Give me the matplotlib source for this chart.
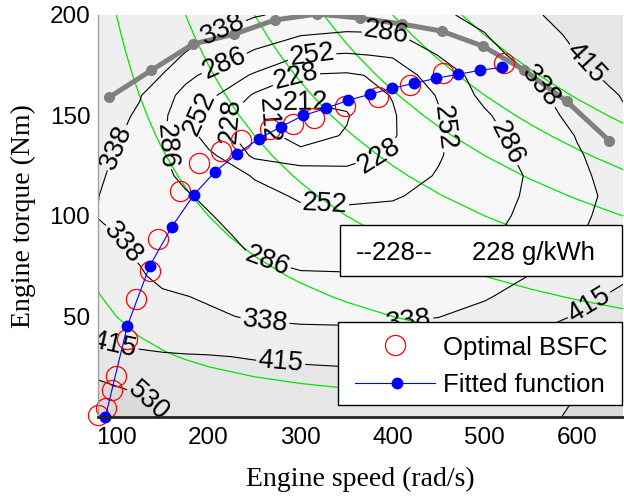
import numpy as np
import matplotlib
matplotlib.use("Agg")
import matplotlib.pyplot as plt
from matplotlib.patches import Rectangle

# ---------------- data ----------------
speed_grid = np.array([80, 100, 125, 150, 175, 200, 250, 300, 350, 400, 450, 500, 550, 600, 650])
torque_grid = np.array([0, 10, 20, 30, 40, 50, 60, 70, 80, 90, 100,
                        110, 120, 130, 140, 150, 160, 170, 180, 190, 200])
# BSFC (g/kWh), one row per torque value, one column per speed value
bsfc_map = np.array([
    [620, 590, 555, 525, 505, 490, 475, 465, 460, 462, 470, 485, 510, 540, 600],
    [575, 555, 537, 510, 490, 475, 458, 448, 443, 444, 450, 462, 485, 532, 580],
    [522, 508, 492, 475, 462, 452, 440, 432, 428, 429, 434, 445, 465, 505, 555],
    [460, 440, 430, 425, 422, 420, 410, 405, 402, 404, 411, 425, 445, 480, 540],
    [405, 395, 390, 380, 372, 366, 358, 354, 352, 354, 360, 375, 420, 450, 505],
    [390, 382, 372, 360, 352, 345, 333, 328, 327, 329, 337, 355, 385, 420, 470],
    [372, 362, 352, 343, 339, 333, 315, 305, 302, 303, 313, 333, 360, 395, 430],
    [360, 352, 342, 330, 320, 310, 298, 290, 289, 290, 296, 314, 340, 370, 405],
    [350, 344, 335, 320, 308, 298, 285, 276, 275, 276, 280, 288, 315, 345, 380],
    [345, 338.5, 326, 312, 300, 295, 278, 266, 263, 264, 268, 280, 300, 334, 365],
    [337, 330, 318, 305, 295, 288, 270, 258, 258, 255, 260, 274, 295, 330, 355],
    [339, 322, 310, 298, 289, 280, 260, 249, 247, 251, 255, 268, 292, 328, 350],
    [345, 328, 308, 292, 280, 270, 250, 240, 237, 240, 254, 266, 290, 330, 355],
    [352, 334, 304, 288, 274, 258, 224, 216, 218, 232, 250, 270, 296, 334, 360],
    [360, 345, 315, 290, 266, 240, 218, 207, 213, 226, 248, 272, 305, 340, 370],
    [372, 352, 330, 292, 266, 240, 214, 205, 211, 226, 250, 281, 314, 352, 405],
    [385, 368, 342, 300, 275, 258, 225, 215, 216, 229, 254, 295, 325, 360, 420],
    [400, 385, 360, 337, 295, 278, 248, 227, 225, 233, 268, 300, 337, 395, 440],
    [405, 392, 380, 355, 335, 310, 278, 252.5, 249, 255, 287, 318, 360, 414, 460],
    [408, 398, 385, 370, 355, 338, 306, 287, 280, 282, 305, 336, 380, 430, 475],
    [412, 405, 395, 385, 372, 360, 342, 325, 315, 318, 330, 352, 402, 452, 495],
])
bsfc_levels = [212, 228, 252, 286, 338, 415, 530]
power_levels_kw = [5, 20, 35, 50, 65, 80, 95]

# maximum torque curve
maxtq_speed = [92, 138, 183, 228, 272, 318, 364, 410, 453, 498, 543, 589, 635]
maxtq_torque = [159, 172.5, 185.5, 190.5, 197.5, 200.5, 198.5, 195.5, 192, 184.5, 172.5, 157, 137.5]

# optimal BSFC points
opt_speed = [79.5, 89, 95.7, 99, 111, 121.7, 136, 144.6, 168.5, 190, 214, 235,
             267, 292, 315, 348, 384, 418.5, 455, 520.5]
opt_torque = [1, 4.5, 13.5, 20.5, 39, 58.5, 72.5, 88.5, 112.5, 126.5, 132.5, 138,
              143.5, 146, 149, 154.5, 159, 165, 171, 176]

# fitted function
fit_speed = [88, 112, 136, 160, 184, 207, 231, 255, 279, 303, 327, 351, 375,
             399, 423, 447, 471, 495, 519]
fit_torque = [0, 45.5, 75, 94.5, 110.5, 122, 131, 138.5, 144.5, 150, 153.5, 157.5,
              160.5, 163.5, 166, 168.5, 170.5, 172.5, 174]

x_ticks = [100, 200, 300, 400, 500, 600]
y_ticks = [50, 100, 150, 200]

# ---------------- style ----------------
plt.rcParams['font.family'] = ['Liberation Sans', 'DejaVu Sans']
serif = ['Liberation Serif', 'DejaVu Serif']

fig = plt.figure(figsize=(6.24, 4.96), dpi=100)
ax = fig.add_axes([98 / 624, 79 / 496, 525 / 624, 402 / 496])

band_colors = ['#fdfdfd', '#fcfcfc', '#fafafa', '#f8f8f8', '#f6f6f6',
               '#efefef', '#e6e6e6', '#dadada']
ax.contourf(speed_grid, torque_grid, bsfc_map,
            levels=[0] + bsfc_levels + [5000], colors=band_colors, zorder=0)

power_kw = np.outer(torque_grid, speed_grid) / 1000.0
ax.contour(speed_grid, torque_grid, power_kw, levels=power_levels_kw,
           colors='#00e600', linewidths=0.9, zorder=2)

cs = ax.contour(speed_grid, torque_grid, bsfc_map, levels=bsfc_levels,
                colors='k', linewidths=0.8, zorder=3)
label_positions = [
    (217, 191), (217, 176), (193.5, 150), (229, 147.5), (267, 148.5),
    (306, 158), (296, 168), (312, 180), (393, 190), (454, 143.5),
    (386, 128.5), (326, 107), (527, 137), (563, 165), (609, 176),
    (154, 135), (103, 133.5), (101, 84.5), (261, 73.5), (261, 46),
    (278, 25), (97, 34.5), (136, 8.5), (614, 55), (418, 46),
]
ax.clabel(cs, fmt='%d', fontsize=19.5, manual=label_positions,
          inline=True, inline_spacing=2)

ax.plot(maxtq_speed, maxtq_torque, color='#808080', lw=3.6, marker='o',
        ms=7, zorder=4)
ax.plot(opt_speed, opt_torque, ls='none', marker='o', mfc='none', mec='#ff0000',
        ms=14.5, mew=0.9, zorder=5, clip_on=False)
ax.plot(fit_speed, fit_torque, color='#0000ff', lw=0.8, marker='o', ms=7.5,
        mec='#0000ff', mfc='#0000ff', zorder=6, clip_on=False)

ax.set_xlim(80, 650)
ax.set_ylim(0, 200)
ax.set_xticks(x_ticks)
ax.set_yticks(y_ticks)
ax.tick_params(length=0, labelsize=17.5)
ax.tick_params(axis='x', pad=7)
ax.tick_params(axis='y', pad=5.5)
for side in ('top', 'right'):
    ax.spines[side].set_visible(False)
ax.spines['left'].set_color('#a0a0a0')
ax.spines['left'].set_linewidth(1.0)
ax.spines['bottom'].set_color('#222222')
ax.spines['bottom'].set_linewidth(2.0)
ax.spines['left'].set_zorder(7)
ax.spines['bottom'].set_zorder(7)

fig.text(360 / 624, (496 - 486) / 496, 'Engine speed (rad/s)', family=serif,
         fontsize=20, ha='center', va='baseline')
fig.text(23 / 624, (496 - 216) / 496, 'Engine torque (Nm)', family=serif,
         fontsize=20, ha='center', va='center', rotation=90)

# contour legend box
ax.add_patch(Rectangle((0.461, 0.3507), 0.538, 0.1269, transform=ax.transAxes,
                       facecolor='white', edgecolor='black', lw=1.0,
                       zorder=10, clip_on=False))
ax.text(0.5638, 0.3905, '--228--', transform=ax.transAxes, fontsize=18.5,
        ha='center', va='baseline', zorder=11)
ax.text(0.7124, 0.3905, '228 g/kWh', transform=ax.transAxes, fontsize=18.5,
        ha='left', va='baseline', zorder=11)

# marker legend box
ax.add_patch(Rectangle((0.457, 0.0299), 0.542, 0.2064, transform=ax.transAxes,
                       facecolor='white', edgecolor='black', lw=1.0,
                       zorder=10, clip_on=False))
ax.plot([0.5657], [0.1791], transform=ax.transAxes, ls='none', marker='o',
        mfc='none', mec='#ff0000', ms=14.5, mew=0.9, zorder=11, clip_on=False)
ax.plot([0.4895, 0.6419], [0.0846, 0.0846], transform=ax.transAxes,
        color='#0000ff', lw=0.8, zorder=11, clip_on=False)
ax.plot([0.5695], [0.0846], transform=ax.transAxes, ls='none', marker='o',
        ms=7.5, mfc='#0000ff', mec='#0000ff', zorder=12, clip_on=False)
ax.text(0.657, 0.1542, 'Optimal BSFC', transform=ax.transAxes, fontsize=18.5,
        ha='left', va='baseline', zorder=11)
ax.text(0.657, 0.0622, 'Fitted function', transform=ax.transAxes, fontsize=18.5,
        ha='left', va='baseline', zorder=11)

fig.savefig('out.png', dpi=100)
